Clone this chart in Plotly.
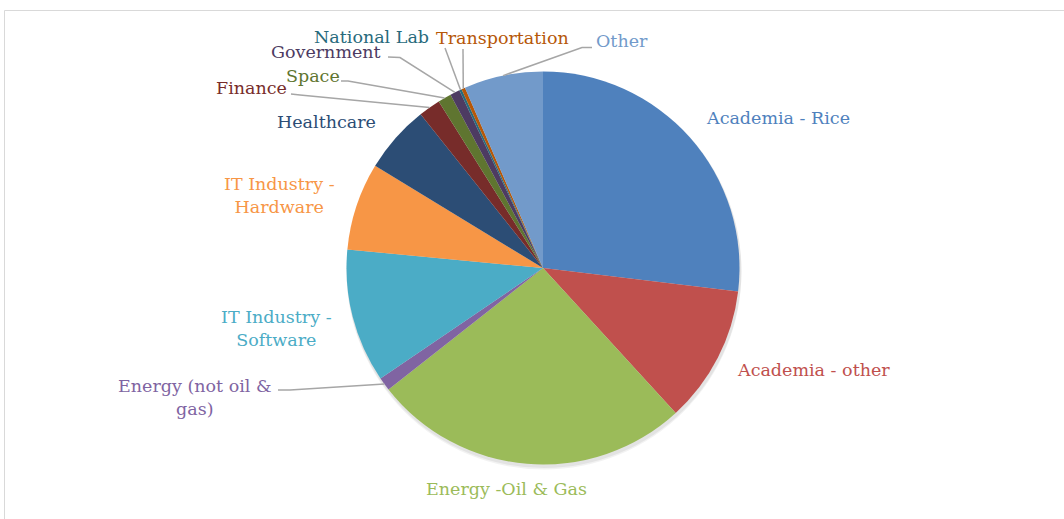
import math
import plotly.graph_objects as go

# ---- data ----
categories = ["Academia - Rice", "Academia - other", "Energy -Oil & Gas",
              "Energy (not oil & gas)", "IT Industry - Software", "IT Industry - Hardware",
              "Healthcare", "Finance", "Space", "Government", "National Lab",
              "Transportation", "Other"]
values = [26.9, 11.3, 26.2, 1.1, 11.0, 7.2, 5.6, 1.8, 1.1, 0.8, 0.2, 0.3, 6.5]
label_texts = ["Academia - Rice", "Academia - other", "Energy -Oil & Gas",
               "Energy (not oil &<br>gas)", "IT Industry -<br>Software", "IT Industry -<br>Hardware",
               "Healthcare", "Finance", "Space", "Government", "National Lab",
               "Transportation", "Other"]
colors = ["#4F81BD", "#C0504D", "#9BBB59", "#8064A2", "#4BACC6", "#F79646",
          "#2C4D75", "#772C2A", "#5F7530", "#4D3B62", "#276A7C", "#B65708", "#729ACA"]

W, H = 1064, 519
CX, CY, R = 543, 268, 196.5

def px(x):
    return x / W

def py(y):
    return 1 - y / H

# label centers (pixels) and leader line elbows (pixels), None = no leader
label_pos = [(778, 118), (813, 370), (506, 489), (195, 397), (276, 328), (279, 195),
             (326, 122), (251, 88), (313, 76), (326, 52), (371, 37), (502, 38), (622, 41)]
leaders = [None, None, None,
           [(278, 390), (290, 390)], None, None, None,
           [(291, 94), (300, 95)],
           [(341, 81), (348, 81)],
           [(388, 57), (400, 57.5)],
           [(445, 48)],
           [(463, 49)],
           [(592, 47.5), (582, 47.5)]]

fig = go.Figure()
fig.add_trace(go.Pie(
    labels=categories, values=values, sort=False, direction="clockwise", rotation=0,
    marker=dict(colors=colors, line=dict(width=0)),
    textinfo="none", showlegend=False,
    domain=dict(x=[px(CX - R), px(CX + R)], y=[py(CY + R), py(CY - R)]),
))

shapes = []
# frame
shapes.append(dict(type="rect", xref="paper", yref="paper",
                   x0=px(4.5), x1=px(W + 20), y0=py(H + 20), y1=py(10.5),
                   line=dict(color="#D9D9D9", width=1), fillcolor="rgba(0,0,0,0)", layer="below"))
# soft shadow
for dx, dy, a in [(1, 4, 0.05), (1, 2.5, 0.06)]:
    shapes.append(dict(type="circle", xref="paper", yref="paper",
                       x0=px(CX - R + dx - 1), x1=px(CX + R + dx + 1),
                       y0=py(CY + R + dy + 1), y1=py(CY - R + dy - 1),
                       line=dict(width=0), fillcolor=f"rgba(0,0,0,{a})", layer="below"))

total = sum(values)
cum = 0.0
annotations = []
for i, v in enumerate(values):
    mid = (cum + v / 2) / total * 2 * math.pi
    cum += v
    rx = CX + R * math.sin(mid)
    ry = CY - R * math.cos(mid)
    if leaders[i] is not None:
        pts = leaders[i] + [(rx, ry)]
        path = "M " + " L ".join(f"{px(x)},{py(y)}" for x, y in pts)
        shapes.append(dict(type="path", xref="paper", yref="paper", path=path,
                           line=dict(color="#A6A6A6", width=1.5)))
    lx, ly = label_pos[i]
    annotations.append(dict(x=px(lx), y=py(ly), xref="paper", yref="paper",
                            text=label_texts[i], showarrow=False,
                            xanchor="center", yanchor="middle", align="center",
                            font=dict(family="DejaVu Serif", size=17.5, color=colors[i])))

fig.update_layout(
    width=W, height=H, margin=dict(l=0, r=0, t=0, b=0),
    paper_bgcolor="white", plot_bgcolor="white",
    shapes=shapes, annotations=annotations,
)
fig.write_html("out.html", config={"displayModeBar": False},
               post_script="document.body.style.margin='0';")
